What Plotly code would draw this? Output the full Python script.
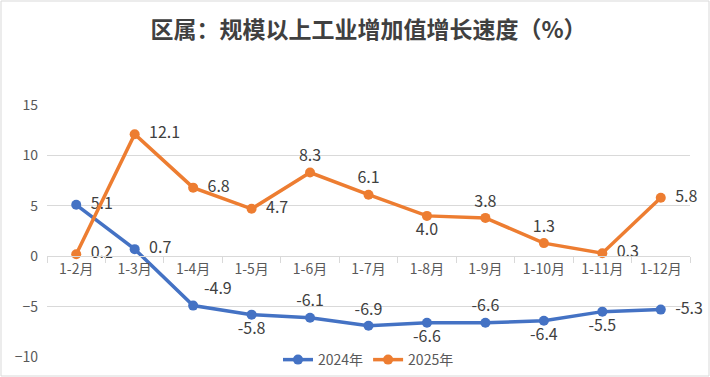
import plotly.graph_objects as go

categories = ["1-2月", "1-3月", "1-4月", "1-5月", "1-6月", "1-7月", "1-8月", "1-9月", "1-10月", "1-11月", "1-12月"]
values_2024 = [5.1, 0.7, -4.9, -5.8, -6.1, -6.9, -6.6, -6.6, -6.4, -5.5, -5.3]
values_2025 = [0.2, 12.1, 6.8, 4.7, 8.3, 6.1, 4.0, 3.8, 1.3, 0.3, 5.8]
y_ticks = [-10, -5, 0, 5, 10, 15]

pos_2024 = ["middle right", "middle right", "top right", "bottom center", "top center", "top center",
            "bottom center", "top center", "bottom center", "bottom center", "middle right"]
pos_2025 = ["middle right", "middle right", "middle right", "middle right", "top center", "top center",
            "bottom center", "top center", "top center", "middle right", "middle right"]

blue = "#4472C4"
orange = "#ED7D31"
font_family = "Noto Sans CJK SC, Noto Sans, sans-serif"


def labels(vals, pos):
    out = []
    for v, p in zip(vals, pos):
        s = f"{v:.1f}"
        if p == "middle right":
            s = "  " + s
        elif p == "top right":
            s = " " + s
        out.append(s)
    return out


fig = go.Figure()
fig.add_trace(go.Scatter(
    x=categories, y=values_2024, name="2024年", mode="lines+markers+text",
    line=dict(color=blue, width=3.5), marker=dict(size=10, color=blue),
    text=labels(values_2024, pos_2024), textposition=pos_2024, cliponaxis=False,
    textfont=dict(size=16, color="#404040", family=font_family),
))
fig.add_trace(go.Scatter(
    x=categories, y=values_2025, name="2025年", mode="lines+markers+text",
    line=dict(color=orange, width=3.5), marker=dict(size=10, color=orange),
    text=labels(values_2025, pos_2025), textposition=pos_2025, cliponaxis=False,
    textfont=dict(size=16, color="#404040", family=font_family),
))

L, R, T, B = 47, 20, 105, 20
W, H = 710, 377
pw, ph = W - L - R, H - T - B

fig.update_layout(
    width=W, height=H,
    margin=dict(l=L, r=R, t=T, b=B, autoexpand=False),
    paper_bgcolor="white", plot_bgcolor="white",
    font=dict(family=font_family, color="#595959"),
    title=dict(text="<b>区属：规模以上工业增加值增长速度（%）</b>", x=0.5, xref="paper",
               xanchor="center", y=1 - 30 / H, yanchor="middle", automargin=False,
               font=dict(size=23, color="#404040", family=font_family)),
    showlegend=True,
    legend=dict(orientation="h", x=0.5, xanchor="center", y=-0.012, yanchor="middle",
                bgcolor="rgba(0,0,0,0)", font=dict(size=14, color="#595959"),
                tracegroupgap=0),
    xaxis=dict(
        type="category", range=[-0.5, len(categories) - 0.5],
        anchor="free", position=10 / 25, automargin=False,
        showline=True, linecolor="#d9d9d9", linewidth=1,
        ticks="outside", tickson="boundaries", ticklen=6, tickcolor="#d9d9d9",
        showgrid=False, tickfont=dict(size=14, color="#595959"),
    ),
    yaxis=dict(
        range=[-10, 15], tickvals=y_ticks, showgrid=True, gridcolor="#d9d9d9", gridwidth=1,
        zeroline=False, showline=False, ticks="", tickfont=dict(size=14, color="#595959"),
        ticklabelstandoff=8, automargin=False,
    ),
    shapes=[dict(type="rect", xref="paper", yref="paper",
                 x0=(1 - L) / pw, x1=(W - 1 - L) / pw,
                 y0=-(B - 1) / ph, y1=1 + (T - 1) / ph,
                 line=dict(color="#d9d9d9", width=1), fillcolor="rgba(0,0,0,0)", layer="below")],
)

fig.write_html("out.html", config={"displayModeBar": False},
               post_script="document.body.style.margin='0';document.body.style.overflow='hidden';")
